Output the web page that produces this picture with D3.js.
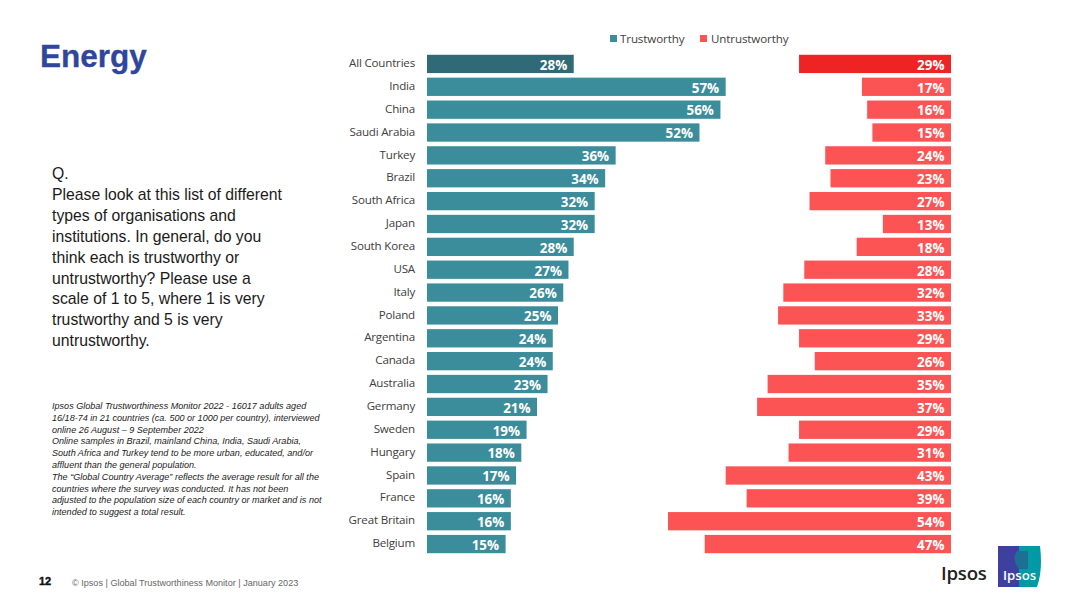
<!DOCTYPE html>
<html><head><meta charset="utf-8">
<script src="https://cdn.jsdelivr.net/npm/d3@7"></script>
<style>html,body{margin:0;padding:0;background:#fff;overflow:hidden}svg{display:block}</style>
</head><body><svg id="c" width="1080" height="607"></svg>
<script>
const categories=["All Countries","India","China","Saudi Arabia","Turkey","Brazil","South Africa","Japan","South Korea","USA","Italy","Poland","Argentina","Canada","Australia","Germany","Sweden","Hungary","Spain","France","Great Britain","Belgium"];
const trustworthy=[28,57,56,52,36,34,32,32,28,27,26,25,24,24,23,21,19,18,17,16,16,15];
const untrustworthy=[29,17,16,15,24,23,27,13,18,28,32,33,29,26,35,37,29,31,43,39,54,47];
const seriesNames=["Trustworthy","Untrustworthy"];
const questionLines=["Q.","Please look at this list of different","types of organisations and","institutions. In general, do you","think each is trustworthy or","untrustworthy? Please use a","scale of 1 to 5, where 1 is very","trustworthy and 5 is very","untrustworthy."];
const noteLines=["Ipsos Global Trustworthiness Monitor 2022 - 16017 adults aged","16/18-74 in 21 countries (ca. 500 or 1000 per country), interviewed","online 26 August – 9 September 2022","Online samples in Brazil, mainland China, India, Saudi Arabia,","South Africa and Turkey tend to be more urban, educated, and/or","affluent than the general population.","The “Global Country Average” reflects the average result for all the","countries where the survey was conducted. It has not been","adjusted to the population size of each country or market and is not","intended to suggest a total result."];

const svg=d3.select("#c");
const UI="'Open Sans','Noto Sans',sans-serif", AR="'Liberation Sans',Arial,sans-serif";
const y=d3.scaleBand().domain(categories).range([52.5,555.5]).paddingInner(0.2).paddingOuter(0.1);
const xL=d3.scaleLinear().domain([0,100]).range([427,951]);
const xR=d3.scaleLinear().domain([0,100]).range([951,427]);
const C={t:"#3c8d9b",tA:"#2f6a76",u:"#fc5454",uA:"#ee2424"};

svg.append("text").attr("x",40).attr("y",67).attr("font-family",AR).attr("font-weight",700).attr("font-size",31.5).attr("fill","#2f469c").attr("stroke","#2f469c").attr("stroke-width",0.3).text("Energy");

svg.append("g").selectAll("text").data(questionLines).join("text")
 .attr("x",52).attr("y",(d,i)=>179+i*20.9).attr("font-family",AR).attr("font-size",15.75).attr("fill","#1a1a1a").text(d=>d);
svg.append("g").selectAll("text").data(noteLines).join("text")
 .attr("x",52).attr("y",(d,i)=>409+i*11.8).attr("font-family",AR).attr("font-style","italic").attr("font-size",9.07).attr("fill","#222").text(d=>d);

svg.append("text").attr("x",39).attr("y",585).attr("font-family",AR).attr("font-weight",700).attr("font-size",11).attr("fill","#111").attr("stroke","#111").attr("stroke-width",0.4).text("12");
svg.append("text").attr("x",72).attr("y",586).attr("font-family",AR).attr("font-size",9.1).attr("fill","#666").text("© Ipsos | Global Trustworthiness Monitor | January 2023");

// legend
const lg=svg.append("g");
[[610,C.t,620],[700,C.u,711]].forEach((l,i)=>{
 lg.append("rect").attr("x",l[0]).attr("y",35).attr("width",7).attr("height",7).attr("fill",l[1]);
 lg.append("text").attr("x",l[2]).attr("y",43).attr("font-family",UI).attr("font-size",11.6).attr("letter-spacing",-0.12).attr("fill","#404040").text(seriesNames[i]);
});

// category axis
const ax=svg.append("g").attr("transform","translate(415,-0.6)").call(d3.axisLeft(y).tickSize(0).tickPadding(0));
ax.select(".domain").remove();
ax.selectAll("text").attr("font-family",UI).attr("font-size",11.6).attr("letter-spacing",-0.2).attr("fill","#404040");

const rows=categories.map((c,i)=>({c,i,t:trustworthy[i],u:untrustworthy[i]}));
svg.append("g").selectAll("rect").data(rows).join("rect")
 .attr("x",xL(0)).attr("y",d=>y(d.c)).attr("width",d=>xL(d.t)-xL(0)).attr("height",y.bandwidth())
 .attr("fill",d=>d.i?C.t:C.tA);
svg.append("g").selectAll("rect").data(rows).join("rect")
 .attr("x",d=>xR(d.u)).attr("y",d=>y(d.c)).attr("width",d=>xR(0)-xR(d.u)).attr("height",y.bandwidth())
 .attr("fill",d=>d.i?C.u:C.uA);
const lab=(data,xf,val)=>svg.append("g").selectAll("text").data(data).join("text")
 .attr("x",xf).attr("y",d=>y(d.c)+y.bandwidth()/2+5.8).attr("text-anchor","end")
 .attr("font-family",UI).attr("font-weight",700).attr("font-size",13.4).attr("fill","#fff").text(d=>val(d)+"%");
lab(rows,d=>xL(d.t)-6.5,d=>d.t);
lab(rows,()=>xR(0)-6.5,d=>d.u);

// logo
svg.append("text").attr("x",941).attr("y",580).attr("font-family",UI).attr("font-weight",600).attr("font-size",18.6).attr("letter-spacing",-0.2).attr("fill","#222").text("Ipsos");
const logo=svg.append("g");
logo.append("path").attr("d","M998 546H1040Q1043 570 1037 587H998Z").attr("fill","#009aa6");
logo.append("path").attr("d","M998 546H1019V587H998Z").attr("fill","#3f3f9f");
logo.append("path").attr("d","M1017 551H1028V569H1019Q1011 560 1017 551Z").attr("fill","#1d6f95");
logo.append("text").attr("x",1003).attr("y",580).attr("font-family",UI).attr("font-size",13.2).attr("font-weight",600).attr("fill","#fff").text("Ipsos");
</script></body></html>
